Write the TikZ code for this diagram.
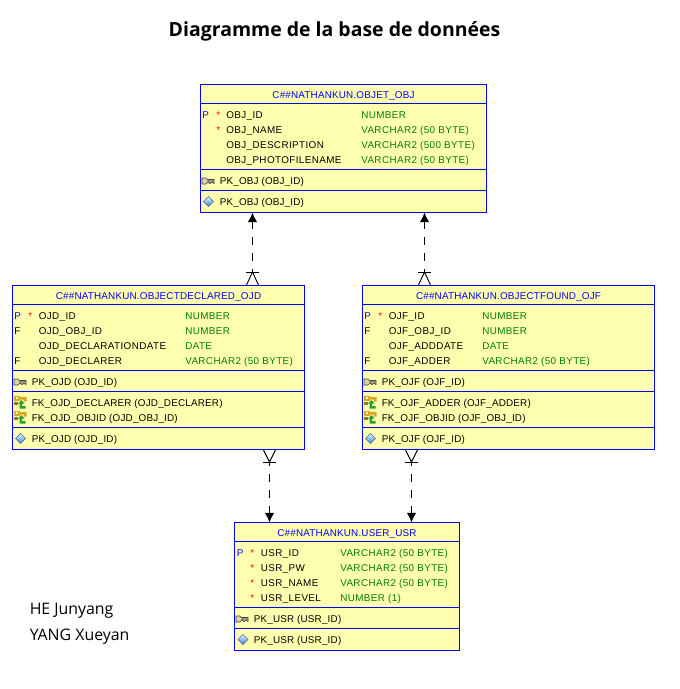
\documentclass[tikz,border=0pt]{standalone}
\usepackage{fontspec}
\usetikzlibrary{arrows.meta,shapes.geometric}
\setmainfont{Open Sans}
\newfontfamily\tablefont[LetterSpace=4]{Liberation Sans}
\newfontfamily\titlefont[LetterSpace=2]{Liberation Sans}
\definecolor{tablefill}{HTML}{FFFFB0}
\definecolor{typegreen}{HTML}{007F00}
\definecolor{keygray}{HTML}{989880}
\definecolor{keygold}{HTML}{D8A820}
\definecolor{arrowgreen}{HTML}{2E9E2E}
\tikzset{
  tablebox/.style={draw=blue,fill=tablefill,line width=0.8pt,inner sep=0pt},
  tableline/.style={draw=blue,line width=0.8pt},
  tabletitle/.style={text=blue,font=\titlefont\fontsize{7.4}{9}\selectfont,inner sep=0pt,anchor=base},
  colname/.style={text=black,font=\tablefont\fontsize{7.4}{9}\selectfont,inner sep=0pt,anchor=base west},
  coltype/.style={colname,text=typegreen},
  colflag/.style={colname,text=blue},
  colfk/.style={colname},
  colstar/.style={colname,text=red},
  keyname/.style={colname,font=\titlefont\fontsize{7.4}{9}\selectfont},
  heading/.style={font=\bfseries\fontsize{14.6}{17}\selectfont,inner sep=0pt,anchor=base},
  author/.style={font=\fontsize{11.9}{13}\selectfont,inner sep=0pt,anchor=base west},
  reln/.style={draw=black,line width=0.75pt,dash pattern=on 6pt off 6pt,dash phase=0.75pt,
    {Latex[length=7.2pt,width=7pt]}-},
  crow/.style={draw=black,line width=0.7pt},
  keyicon/.pic={
    \fill[keygray,draw=black!75,line width=0.4pt] (-1,-1.5) -- (6,-1.5) -- (6,2.5) -- (4,1.5) -- (2,2.5) -- (0,1.5) -- cycle;
    \fill[tablefill!60!keygray,draw=black!75,line width=0.4pt] (-6,-3) -- (-2,-3) -- (0,-1) -- (0,1) -- (-2,3) -- (-6,3) -- cycle;
  },
  fkicon/.pic={
    \fill[keygold] (-7,-7) rectangle (-1,-2);
    \fill[tablefill] (-5,-5.5) rectangle (-3,-3.5);
    \fill[keygold] (-1,-5.5) rectangle (6,-3) (3,-3) rectangle (6,-1);
    \fill[keygold!70!black] (-7,-1) rectangle (-3,2);
    \fill[arrowgreen] (-1,6) rectangle (5,3.5) (-1,3.5) rectangle (1.5,1) (-2.5,1) -- (1,-2.5) -- (4,1) -- cycle;
  },
  idxicon/.pic={
    \shade[top color=blue!10!cyan!15,bottom color=blue!45!cyan!60!gray] (-5,0) -- (0,-5) -- (5,0) -- (0,5) -- cycle;
    \draw[blue!30!gray,line width=0.3pt] (-5,0) -- (0,-5) -- (5,0) -- (0,5) -- cycle;
  }
}
\begin{document}
\begin{tikzpicture}[x=0.75pt,y=-0.75pt]
    \useasboundingbox[fill=white] (0,0) rectangle (680,689);

    % heading and authors
    \node[heading] (title) at (334.5,36) {Diagramme de la base de données};
    \node[author] (author1) at (29.5,614) {HE Junyang};
    \node[author] (author2) at (29.5,640) {YANG Xueyan};

    % table boxes
    \node[tablebox,minimum width=214.5pt,minimum height=96pt] (obj) at (343.5,148.5) {};
    \node[tablebox,minimum width=219pt,minimum height=123pt] (ojd) at (158.5,367.5) {};
    \node[tablebox,minimum width=219pt,minimum height=123pt] (ojf) at (508.5,367.5) {};
    \node[tablebox,minimum width=168.75pt,minimum height=96pt] (usr) at (347,586.5) {};

    % separators
    \foreach \y in {103.5,169.5,190.5}
      \draw[tableline] (obj.west |- 0,\y) -- (obj.east |- 0,\y);
    \foreach \y in {304.5,370.5,391.5,427.5} {
      \draw[tableline] (ojd.west |- 0,\y) -- (ojd.east |- 0,\y);
      \draw[tableline] (ojf.west |- 0,\y) -- (ojf.east |- 0,\y);
    }
    \foreach \y in {541.5,607.5,628.5}
      \draw[tableline] (usr.west |- 0,\y) -- (usr.east |- 0,\y);

    % table OBJ
    \node[tabletitle] (objtitle) at (343.5,98.5) {C\#\#NATHANKUN.OBJET\_OBJ};
    \node[colflag] (objp) at (202,118) {P};
    \node[colstar] (objs1) at (216,118) {*};
    \node[colstar] (objs2) at (216,133) {*};
    \node[colname] (objn1) at (226,118) {OBJ\_ID};
    \node[colname] (objn2) at (226,133) {OBJ\_NAME};
    \node[colname] (objn3) at (226,148) {OBJ\_DESCRIPTION};
    \node[colname] (objn4) at (226,163) {OBJ\_PHOTOFILENAME};
    \node[coltype] (objt1) at (361,118) {NUMBER};
    \node[coltype] (objt2) at (361,133) {VARCHAR2 (50 BYTE)};
    \node[coltype] (objt3) at (361,148) {VARCHAR2 (500 BYTE)};
    \node[coltype] (objt4) at (361,163) {VARCHAR2 (50 BYTE)};
    \pic at (208,181) {keyicon};
    \node[keyname] (objk) at (219.5,184) {PK\_OBJ (OBJ\_ID)};
    \pic at (208.5,201.5) {idxicon};
    \node[keyname] (obji) at (219.5,205) {PK\_OBJ (OBJ\_ID)};

    % table OJD
    \node[tabletitle] (ojdtitle) at (158.5,299.5) {C\#\#NATHANKUN.OBJECTDECLARED\_OJD};
    \node[colflag] (ojdp) at (14,319) {P};
    \node[colstar] (ojds) at (28,319) {*};
    \node[colfk] (ojdf1) at (14,334) {F};
    \node[colfk] (ojdf2) at (14,364) {F};
    \node[colname] (ojdn1) at (38.5,319) {OJD\_ID};
    \node[colname] (ojdn2) at (38.5,334) {OJD\_OBJ\_ID};
    \node[colname] (ojdn3) at (38.5,349) {OJD\_DECLARATIONDATE};
    \node[colname] (ojdn4) at (38.5,364) {OJD\_DECLARER};
    \node[coltype] (ojdt1) at (185,319) {NUMBER};
    \node[coltype] (ojdt2) at (185,334) {NUMBER};
    \node[coltype] (ojdt3) at (185,349) {DATE};
    \node[coltype] (ojdt4) at (185,364) {VARCHAR2 (50 BYTE)};
    \pic at (20,382) {keyicon};
    \node[keyname] (ojdk) at (31.5,385) {PK\_OJD (OJD\_ID)};
    \pic at (20.5,402.5) {fkicon};
    \node[keyname] (ojdf3) at (31.5,406) {FK\_OJD\_DECLARER (OJD\_DECLARER)};
    \pic at (20.5,417.5) {fkicon};
    \node[keyname] (ojdf4) at (31.5,421) {FK\_OJD\_OBJID (OJD\_OBJ\_ID)};
    \pic at (20.5,438.5) {idxicon};
    \node[keyname] (ojdi) at (31.5,442) {PK\_OJD (OJD\_ID)};

    % table OJF
    \node[tabletitle] (ojftitle) at (508.5,299.5) {C\#\#NATHANKUN.OBJECTFOUND\_OJF};
    \node[colflag] (ojfp) at (364,319) {P};
    \node[colstar] (ojfs) at (378,319) {*};
    \node[colfk] (ojff1) at (364,334) {F};
    \node[colfk] (ojff2) at (364,364) {F};
    \node[colname] (ojfn1) at (388.5,319) {OJF\_ID};
    \node[colname] (ojfn2) at (388.5,334) {OJF\_OBJ\_ID};
    \node[colname] (ojfn3) at (388.5,349) {OJF\_ADDDATE};
    \node[colname] (ojfn4) at (388.5,364) {OJF\_ADDER};
    \node[coltype] (ojft1) at (482,319) {NUMBER};
    \node[coltype] (ojft2) at (482,334) {NUMBER};
    \node[coltype] (ojft3) at (482,349) {DATE};
    \node[coltype] (ojft4) at (482,364) {VARCHAR2 (50 BYTE)};
    \pic at (370,382) {keyicon};
    \node[keyname] (ojfk) at (381.5,385) {PK\_OJF (OJF\_ID)};
    \pic at (370.5,402.5) {fkicon};
    \node[keyname] (ojff3) at (381.5,406) {FK\_OJF\_ADDER (OJF\_ADDER)};
    \pic at (370.5,417.5) {fkicon};
    \node[keyname] (ojff4) at (381.5,421) {FK\_OJF\_OBJID (OJF\_OBJ\_ID)};
    \pic at (370.5,438.5) {idxicon};
    \node[keyname] (ojfi) at (381.5,442) {PK\_OJF (OJF\_ID)};

    % table USR
    \node[tabletitle] (usrtitle) at (347,536.5) {C\#\#NATHANKUN.USER\_USR};
    \node[colflag] (usrp) at (236.5,556) {P};
    \node[colstar] (usrs1) at (250,556) {*};
    \node[colstar] (usrs2) at (250,571) {*};
    \node[colstar] (usrs3) at (250,586) {*};
    \node[colstar] (usrs4) at (250,601) {*};
    \node[colname] (usrn1) at (260.5,556) {USR\_ID};
    \node[colname] (usrn2) at (260.5,571) {USR\_PW};
    \node[colname] (usrn3) at (260.5,586) {USR\_NAME};
    \node[colname] (usrn4) at (260.5,601) {USR\_LEVEL};
    \node[coltype] (usrt1) at (340,556) {VARCHAR2 (50 BYTE)};
    \node[coltype] (usrt2) at (340,571) {VARCHAR2 (50 BYTE)};
    \node[coltype] (usrt3) at (340,586) {VARCHAR2 (50 BYTE)};
    \node[coltype] (usrt4) at (340,601) {NUMBER (1)};
    \pic at (242,619) {keyicon};
    \node[keyname] (usrk) at (253.5,622) {PK\_USR (USR\_ID)};
    \pic at (243,639.5) {idxicon};
    \node[keyname] (usri) at (253.5,643) {PK\_USR (USR\_ID)};

    % connector ends
    \coordinate (objleft) at (252.5,212.5);
    \coordinate (objright) at (424.5,212.5);
    \coordinate (ojdtop) at (252.5,272);
    \coordinate (ojftop) at (424.5,272);
    \coordinate (ojdbot) at (269.5,462);
    \coordinate (ojfbot) at (411.5,462);
    \coordinate (usrleft) at (269.5,522.5);
    \coordinate (usrright) at (411.5,522.5);

    % relations
    \draw[reln] (objleft) -- (ojdtop);
    \draw[reln] (objright) -- (ojftop);
    \draw[reln] (usrleft) -- (ojdbot);
    \draw[reln] (usrright) -- (ojfbot);

    % crow feet
    \foreach \c in {ojdtop,ojftop} {
      \draw[crow] (\c) ++(-6.5,0) -- ++(13,0);
      \draw[crow] (\c) ++(-6,13) -- (\c) -- ++(6,13);
    }
    \foreach \c in {ojdbot,ojfbot} {
      \draw[crow] (\c) ++(-6.5,0) -- ++(13,0);
      \draw[crow] (\c) ++(-6,-12) -- (\c) -- ++(6,-12);
    }
\end{tikzpicture}
\end{document}
